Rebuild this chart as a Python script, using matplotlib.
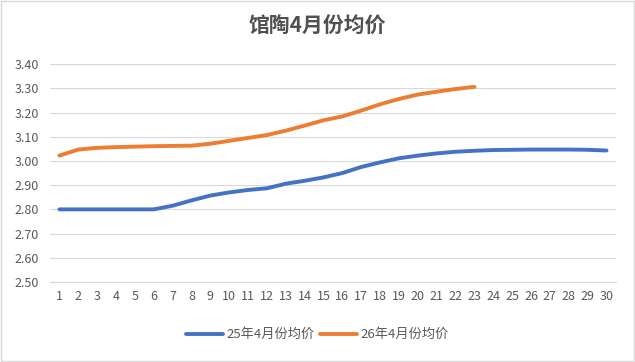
import numpy as np
import matplotlib.pyplot as plt
from matplotlib.patches import Rectangle

plt.rcParams['font.family'] = ['Noto Sans CJK SC', 'DejaVu Sans']

days = list(range(1, 31))
price_25 = [2.800, 2.800, 2.800, 2.800, 2.800, 2.800, 2.815, 2.837, 2.857, 2.870,
            2.880, 2.887, 2.906, 2.918, 2.932, 2.950, 2.975, 2.994, 3.011, 3.022,
            3.031, 3.038, 3.042, 3.045, 3.046, 3.047, 3.047, 3.047, 3.046, 3.043]
price_26 = [3.022, 3.047, 3.054, 3.057, 3.059, 3.061, 3.062, 3.063, 3.071, 3.083,
            3.095, 3.107, 3.125, 3.146, 3.168, 3.184, 3.208, 3.234, 3.256, 3.274,
            3.286, 3.297, 3.306]
yticks = [2.5, 2.6, 2.7, 2.8, 2.9, 3.0, 3.1, 3.2, 3.3, 3.4]

fig = plt.figure(figsize=(6.35, 3.62), dpi=100)
ax = fig.add_axes([0.0787, 0.221, 0.8913, 0.602])

ax.plot(days, price_25, color='#4472C4', lw=2.8, solid_capstyle='round',
        solid_joinstyle='round', label='25年4月份均价')
ax.plot(days[:len(price_26)], price_26, color='#ED7D31', lw=2.8, solid_capstyle='round',
        solid_joinstyle='round', label='26年4月份均价')

ax.set_xlim(0.5, 30.5)
ax.set_ylim(2.5, 3.4)
ax.set_yticks(yticks)
ax.set_yticklabels([f'{v:.2f}' for v in yticks])
ax.set_xticks(days)
ax.set_xticklabels([str(d) for d in days])
ax.grid(axis='y', color='#D9D9D9', lw=0.8)
ax.set_axisbelow(True)
for s in ['top', 'right', 'left']:
    ax.spines[s].set_visible(False)
ax.spines['bottom'].set_color('#D9D9D9')
ax.tick_params(length=0, labelsize=9, labelcolor='#595959')
ax.tick_params(axis='y', pad=8)
ax.tick_params(axis='x', pad=6)

fig.text(0.5, 0.928, '馆陶4月份均价', ha='center', va='center', fontsize=15,
         fontweight='bold', color='#505050')

fig.legend(loc='center', bbox_to_anchor=(0.5, 0.075), ncol=2, frameon=False,
           fontsize=9.5, handlelength=2.8, columnspacing=0.4, handletextpad=0.3,
           labelcolor='#595959')

fig.patches.append(Rectangle((0.002, 0.003), 0.996, 0.994, transform=fig.transFigure,
                             fill=False, edgecolor='#D9D9D9', lw=1))

fig.savefig('out.png', dpi=100)
